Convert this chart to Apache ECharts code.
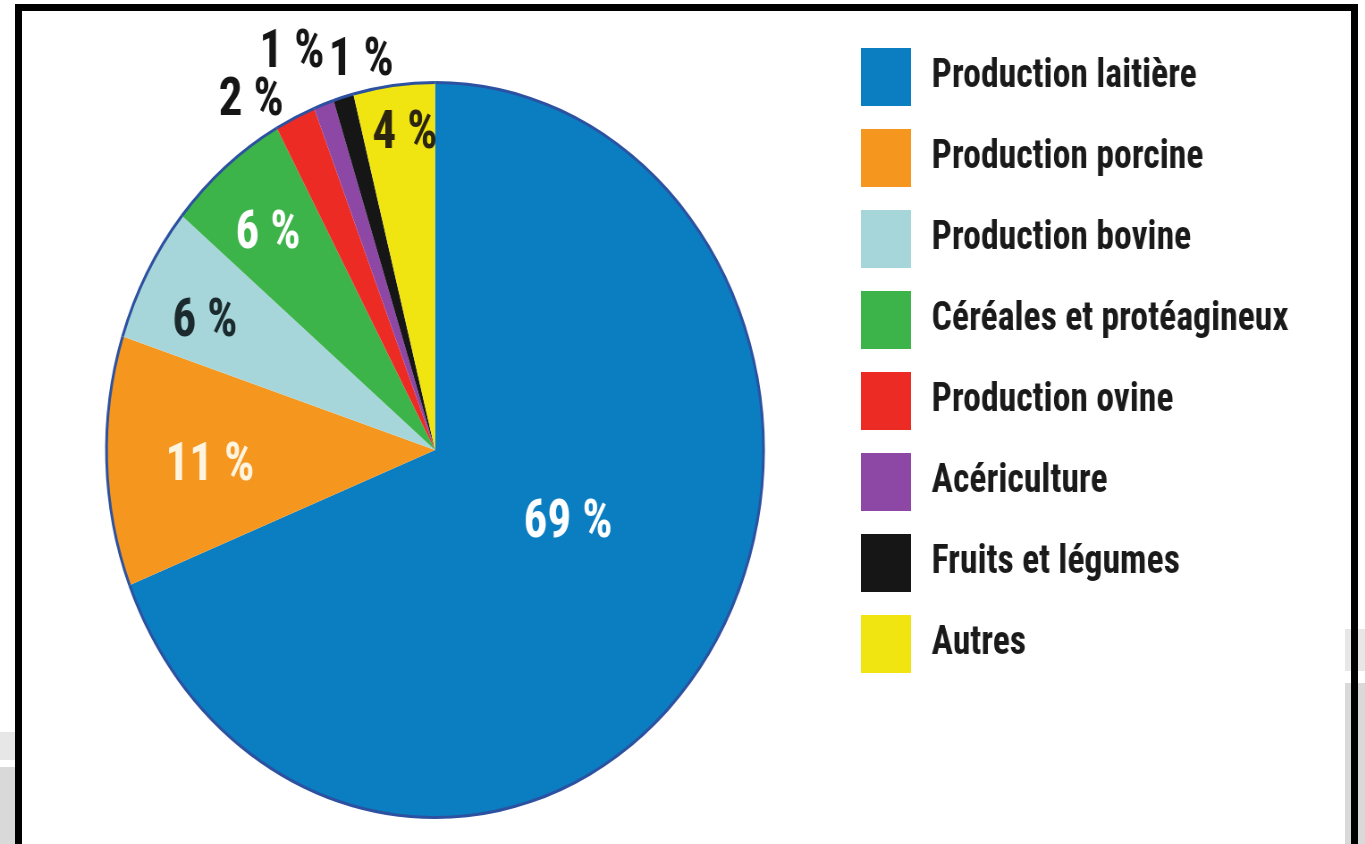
<!DOCTYPE html>
<html>
<head>
<meta charset="utf-8">
<script src="https://cdn.jsdelivr.net/npm/echarts@6/dist/echarts.min.js"></script>
<style>
  html, body { margin:0; padding:0; width:1365px; height:844px; overflow:hidden; background:#ffffff; }
  .band { position:absolute; }
  #chart { position:absolute; left:0; top:0; width:1527px; height:844px; transform:scaleX(0.894); transform-origin:0 0; z-index:1; }
  #frame { position:absolute; left:15px; top:4px; width:1329px; height:900px; border:7px solid #000; border-bottom:none; z-index:2; pointer-events:none; }
</style>
</head>
<body>
<div class="band" style="left:0;top:732px;width:15px;height:28px;background:#e7e7e7;"></div>
<div class="band" style="left:0;top:767px;width:15px;height:77px;background:#d9d9d9;"></div>
<div class="band" style="left:1345px;top:629px;width:20px;height:42px;background:#e7e7e7;"></div>
<div class="band" style="left:1345px;top:683px;width:20px;height:161px;background:#d9d9d9;"></div>
<div id="chart"></div>
<div id="frame"></div>
<script>
// ---- data ----
const categories = ['Production laitière', 'Production porcine', 'Production bovine', 'Céréales et protéagineux', 'Production ovine', 'Acériculture', 'Fruits et légumes', 'Autres'];
const shares = [69, 11, 6, 6, 2, 1, 1, 4];
const sliceColors = ['#0b7dc1', '#f5961e', '#a7d6da', '#3cb44a', '#ec2b25', '#8d48a6', '#161616', '#f0e511'];
const labelColors = ['#ffffff', '#fff4e0', '#1b2a2c', '#ffffff', '#151515', '#151515', '#151515', '#2a2410'];

// ---- layout / style ----
const FONT = '"Roboto Condensed", Roboto, "Liberation Sans", sans-serif';
const CENTER = [486.6, 450];
const R = 367;

// a transparent ring whose "inside" label radius places the chosen label
function labelRing(radius, idx, pad, dropTop) {
  const txt = { color: labelColors[idx], fontSize: 53, fontWeight: 'bold', fontFamily: FONT };
  return {
    type: 'pie',
    radius: radius,
    center: CENTER,
    startAngle: 90,
    clockwise: true,
    silent: true,
    legendHoverLink: false,
    animation: false,
    avoidLabelOverlap: false,
    labelLayout: { hideOverlap: false },
    itemStyle: { color: 'rgba(0,0,0,0)', borderWidth: 0 },
    labelLine: { show: false },
    emphasis: { disabled: true },
    data: categories.map((name, i) => ({
      name: name,
      value: shares[i],
      label: Object.assign({
        show: i === idx,
        position: 'inside',
        formatter: dropTop ? '{t|{c} %}' : '{c} %',
        padding: pad || 0,
        rich: dropTop ? { t: Object.assign({ padding: [dropTop, 0, 0, 0] }, txt) } : undefined
      }, txt)
    }))
  };
}

const chart = echarts.init(document.getElementById('chart'), null, { renderer: 'canvas' });
chart.setOption({
  backgroundColor: 'transparent',
  animation: false,
  legend: {
    orient: 'vertical',
    left: 958,
    top: 43,
    itemWidth: 56,
    itemHeight: 58,
    itemGap: 23,
    icon: 'rect',
    selectedMode: false,
    data: categories.map((name, i) => ({ name: name, itemStyle: { color: sliceColors[i] } })),
    textStyle: { fontSize: 40, fontWeight: 'bold', fontFamily: FONT, color: '#1a1a1a', padding: [0, 0, 0, 18] }
  },
  series: [
    {
      type: 'pie',
      radius: R,
      center: CENTER,
      startAngle: 90,
      clockwise: true,
      animation: false,
      label: { show: false },
      labelLine: { show: false },
      emphasis: { disabled: true },
      itemStyle: { borderWidth: 0 },
      data: categories.map((name, i) => ({ name: name, value: shares[i], itemStyle: { color: sliceColors[i] } }))
    },
    {
      type: 'pie',
      radius: [R - 1, R + 2],
      center: CENTER,
      startAngle: 90,
      silent: true,
      legendHoverLink: false,
      animation: false,
      label: { show: false },
      labelLine: { show: false },
      emphasis: { disabled: true },
      itemStyle: { color: '#2c51a0', borderWidth: 0 },
      data: categories.map((name, i) => ({ name: name, value: shares[i] }))
    },
    labelRing(257, 0, [0, 0, 0, 80]),
    labelRing(498, 1, 0, 18),
    labelRing(521, 2, [0, 53, 0, 0]),
    labelRing(554, 3, [0, 17, 0, 0]),
    labelRing(763, 4, [0, 84, 0, 0]),
    labelRing(836, 5, [0, 35, 0, 0]),
    labelRing(802, 6, [0, 0, 0, 60]),
    labelRing(629, 7, [0, 0, 0, 12])
  ]
});
</script>
</body>
</html>
